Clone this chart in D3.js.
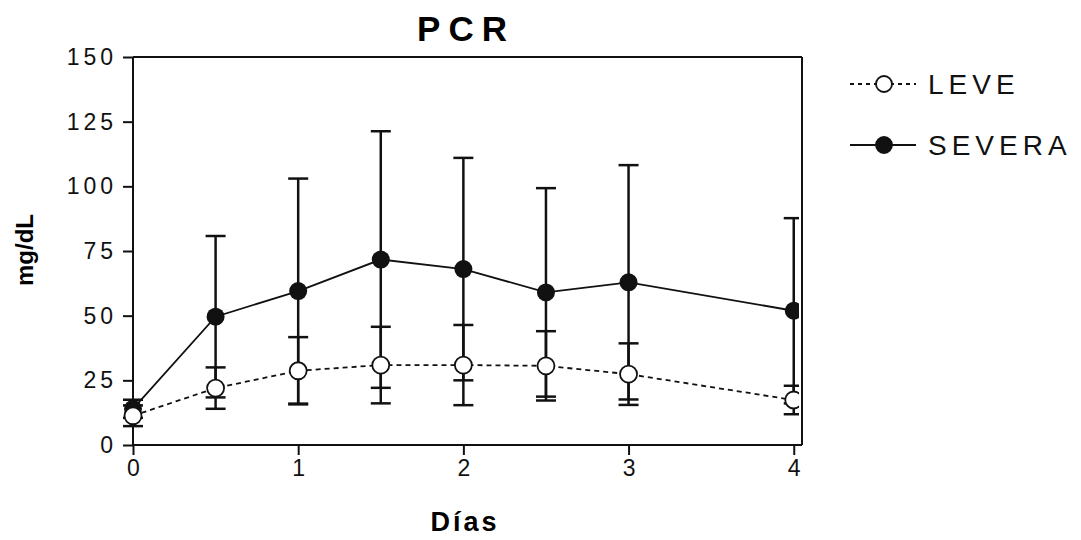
<!DOCTYPE html>
<html>
<head>
<meta charset="utf-8">
<script src="https://cdn.jsdelivr.net/npm/d3@7"></script>
<style>
  body { margin: 0; background: #fff; }
  svg { display: block; font-family: "Liberation Sans", Arial, sans-serif; }
  .axis path, .axis line { stroke: #111; stroke-width: 2; }
  .axis text { font-family: "Liberation Sans", Arial, sans-serif; font-size: 23px; fill: #111; letter-spacing: 4px; }
</style>
</head>
<body>
<div id="chart"></div>
<script>
// days on x, means and SD per group
var days = [0, 0.5, 1, 1.5, 2, 2.5, 3, 4];
var leveMean = [11.3, 22, 28.7, 30.9, 30.9, 30.6, 27.4, 17.4];
var leveSD = [4, 8, 13, 14.8, 15.5, 13.4, 11.9, 5.5];
var severaMean = [14, 49.6, 59.5, 71.7, 68, 59, 62.9, 51.9];
var severaSD = [3.5, 31.2, 43.5, 49.6, 43, 40.3, 45.3, 35.8];
var xTicks = [0, 1, 2, 3, 4];
var yTicks = [0, 25, 50, 75, 100, 125, 150];

var width = 1081, height = 540;
var pLeft = 133, pRight = 802, pTop = 57, pBottom = 445;

var x = d3.scaleLinear().domain([0, 4.05]).range([pLeft, pRight]);
var y = d3.scaleLinear().domain([0, 150]).range([pBottom, pTop]);

var svg = d3.select("#chart").append("svg")
  .attr("width", width)
  .attr("height", height);

svg.append("defs").append("clipPath").attr("id", "plotClip")
  .append("rect")
  .attr("x", pLeft - 14).attr("y", pTop - 2)
  .attr("width", pRight - pLeft + 11).attr("height", pBottom - pTop + 12);

function rows(means, sds) {
  return days.map(function(d, i) {
    return { day: d, mean: means[i], sd: sds[i] };
  });
}
var leve = rows(leveMean, leveSD);
var severa = rows(severaMean, severaSD);

// frame top and right
svg.append("line")
  .attr("x1", pLeft).attr("x2", pRight).attr("y1", pTop).attr("y2", pTop)
  .attr("stroke", "#111").attr("stroke-width", 2);
svg.append("line")
  .attr("x1", pRight).attr("x2", pRight).attr("y1", pTop).attr("y2", pBottom)
  .attr("stroke", "#111").attr("stroke-width", 2);

// axes
svg.append("g")
  .attr("class", "axis")
  .attr("transform", "translate(" + pLeft + ",0)")
  .call(d3.axisLeft(y).tickValues(yTicks).tickSize(10).tickPadding(6))
  .call(function(g) { g.select(".domain").attr("d", "M0," + pTop + "V" + pBottom); });

svg.append("g")
  .attr("class", "axis")
  .attr("transform", "translate(0," + pBottom + ")")
  .call(d3.axisBottom(x).tickValues(xTicks).tickFormat(d3.format("d")).tickSize(10).tickPadding(5))
  .call(function(g) { g.select(".domain").attr("d", "M" + pLeft + ",0H" + pRight); })
  .selectAll("text").attr("dx", "2px");

var plot = svg.append("g").attr("clip-path", "url(#plotClip)");

function errorBars(data) {
  var g = plot.append("g").attr("stroke", "#111").attr("stroke-width", 2.5);
  data.forEach(function(d) {
    var cx = x(d.day);
    g.append("line")
      .attr("x1", cx).attr("x2", cx)
      .attr("y1", y(d.mean - d.sd)).attr("y2", y(d.mean + d.sd));
    [d.mean - d.sd, d.mean + d.sd].forEach(function(v) {
      g.append("line")
        .attr("x1", cx - 10).attr("x2", cx + 10)
        .attr("y1", y(v)).attr("y2", y(v));
    });
  });
}

errorBars(severa);
errorBars(leve);

var line = d3.line()
  .x(function(d) { return x(d.day); })
  .y(function(d) { return y(d.mean); });

plot.append("path")
  .datum(severa)
  .attr("fill", "none").attr("stroke", "#111").attr("stroke-width", 1.8)
  .attr("d", line);

plot.append("path")
  .datum(leve)
  .attr("fill", "none").attr("stroke", "#111").attr("stroke-width", 1.8)
  .attr("stroke-dasharray", "5,4")
  .attr("d", line);

plot.selectAll(".sev")
  .data(severa)
  .enter().append("circle")
  .attr("class", "sev")
  .attr("cx", function(d) { return x(d.day); })
  .attr("cy", function(d) { return y(d.mean); })
  .attr("r", 9)
  .attr("fill", "#111");

plot.selectAll(".lev")
  .data(leve)
  .enter().append("circle")
  .attr("class", "lev")
  .attr("cx", function(d) { return x(d.day); })
  .attr("cy", function(d) { return y(d.mean); })
  .attr("r", 8.5)
  .attr("fill", "#fff").attr("stroke", "#111").attr("stroke-width", 1.8);

// titles
svg.append("text")
  .attr("x", 466).attr("y", 41)
  .attr("text-anchor", "middle")
  .attr("font-size", 35).attr("font-weight", "bold")
  .attr("letter-spacing", "8px")
  .text("PCR");

svg.append("text")
  .attr("x", 465).attr("y", 531)
  .attr("text-anchor", "middle")
  .attr("font-size", 27).attr("font-weight", "bold")
  .attr("letter-spacing", "3px")
  .text("Días");

svg.append("text")
  .attr("transform", "translate(33,250) rotate(-90)")
  .attr("text-anchor", "middle")
  .attr("font-size", 24).attr("font-weight", "bold")
  .text("mg/dL");

// legend
var legend = svg.append("g").attr("transform", "translate(850,0)");
var items = [
  { name: "LEVE", y: 84, dash: "4,4", fill: "#fff" },
  { name: "SEVERA", y: 145, dash: null, fill: "#111" }
];
items.forEach(function(it) {
  legend.append("line")
    .attr("x1", 0).attr("x2", 66).attr("y1", it.y).attr("y2", it.y)
    .attr("stroke", "#111").attr("stroke-width", 1.8)
    .attr("stroke-dasharray", it.dash);
  legend.append("circle")
    .attr("cx", 34).attr("cy", it.y).attr("r", 8)
    .attr("fill", it.fill).attr("stroke", "#111").attr("stroke-width", 1.8);
  legend.append("text")
    .attr("x", 78).attr("y", it.y + 10)
    .attr("font-size", 28).attr("letter-spacing", "5px")
    .attr("fill", "#111")
    .text(it.name);
});
</script>
</body>
</html>
